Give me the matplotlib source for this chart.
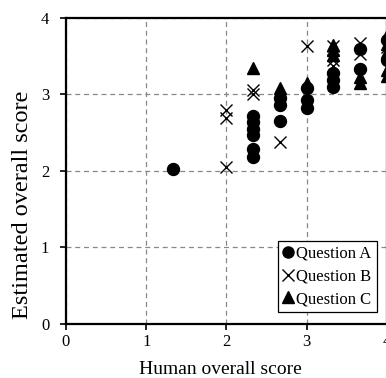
import matplotlib
matplotlib.use("Agg")
import matplotlib.pyplot as plt
from matplotlib.lines import Line2D

plt.rcParams['font.family'] = ['Liberation Serif', 'DejaVu Serif']

# Question A (circles)
qa_x = [1.33, 2.33, 2.33, 2.33, 2.33, 2.33, 2.33, 2.67, 2.67, 2.67,
        3.0, 3.0, 3.0, 3.33, 3.33, 3.33, 3.67, 3.67, 4.0, 4.0]
qa_y = [2.02, 2.72, 2.63, 2.55, 2.47, 2.29, 2.18, 2.95, 2.86, 2.65,
        3.08, 2.92, 2.82, 3.28, 3.19, 3.09, 3.59, 3.33, 3.70, 3.45]
# Question B (crosses)
qb_x = [2.0, 2.0, 2.0, 2.33, 2.33, 2.67, 3.0, 3.33, 3.33, 3.33, 3.67, 3.67, 4.0]
qb_y = [2.79, 2.69, 2.05, 3.05, 3.00, 2.37, 3.63, 3.63, 3.44, 3.37, 3.67, 3.52, 3.62]
# Question C (triangles)
qc_x = [2.33, 2.67, 3.0, 3.33, 3.33, 3.33, 3.67, 3.67, 4.0, 4.0, 4.0, 4.0, 4.0]
qc_y = [3.34, 3.08, 3.14, 3.64, 3.57, 3.51, 3.23, 3.14, 3.77, 3.65, 3.55, 3.32, 3.24]

ticks = [0, 1, 2, 3, 4]
series_labels = ['Question A', 'Question B', 'Question C']

fig = plt.figure(figsize=(3.86, 3.78), dpi=100)
ax = fig.add_axes([66/386, 1 - 324/378, 1 - 66/386 + 0.002, (324 - 17.5)/378])

ax.plot(qa_x, qa_y, 'o', color='black', markersize=8.6, linestyle='none', label=series_labels[0], clip_on=False)
ax.plot(qb_x, qb_y, 'x', color='black', markersize=8.4, markeredgewidth=1.0, linestyle='none', label=series_labels[1], clip_on=False)
ax.plot(qc_x, qc_y, '^', color='black', markersize=8.6, linestyle='none', label=series_labels[2], clip_on=False)

ax.set_xlim(0, 4)
ax.set_ylim(0, 4)
ax.set_xticks(ticks)
ax.set_yticks(ticks)
ax.tick_params(direction='out', length=4, width=1.2, labelsize=12)
ax.tick_params(axis='x', pad=3)
ax.tick_params(axis='y', pad=8)
ax.grid(True, color='#888888', linestyle=(0, (4, 3)), linewidth=0.9)
ax.set_axisbelow(True)
for s in ax.spines.values():
    s.set_linewidth(1.6)

ax.set_xlabel('Human overall score', fontsize=14)
ax.xaxis.label.set_va('baseline')
ax.xaxis.set_label_coords((220 - 66) / 320, -(374 - 324) / 306.5)

ax.set_ylabel('Estimated overall score', fontsize=17.5)
ax.yaxis.label.set_va('center')
ax.yaxis.label.set_ha('center')
ax.yaxis.set_label_coords((23 - 66) / 320, (324 - 205) / 306.5)

handles = [Line2D([], [], marker='o', color='black', linestyle='none', markersize=8),
           Line2D([], [], marker='x', color='black', linestyle='none', markersize=8, markeredgewidth=1.0),
           Line2D([], [], marker='^', color='black', linestyle='none', markersize=8)]
leg = ax.legend(handles, series_labels, loc='lower right', bbox_to_anchor=(310/320, 12/306.5),
                fontsize=12, frameon=True, fancybox=False, framealpha=1, edgecolor='black',
                handlelength=0.6, handletextpad=0.2, borderpad=0.3, labelspacing=0.4,
                borderaxespad=0)
leg.get_frame().set_linewidth(0.9)

fig.savefig('out.png', dpi=100)
